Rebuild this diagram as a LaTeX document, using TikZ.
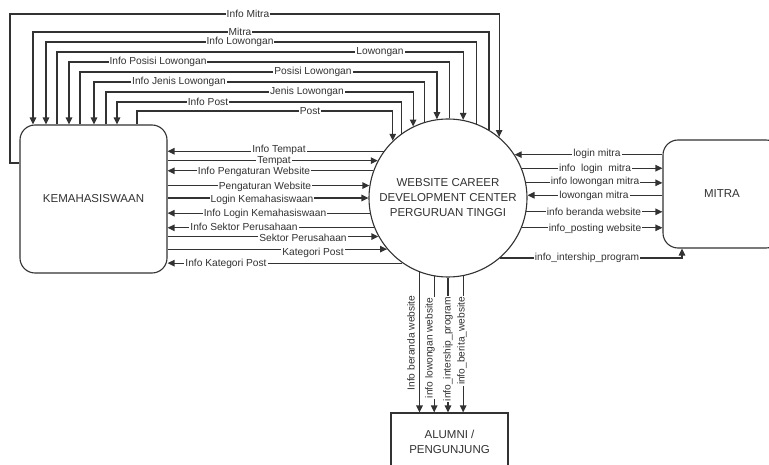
\documentclass[tikz,border=0pt]{standalone}
\usepackage{fontspec}
\setmainfont{Liberation Sans}
\usetikzlibrary{arrows.meta}
\definecolor{ln}{RGB}{50,50,50}
\definecolor{txt}{RGB}{50,50,50}
\begin{document}
\begin{tikzpicture}[x=1pt,y=-1pt,
  arr/.style={draw=ln, line width=1.15pt, -{Triangle[length=7pt,width=6.5pt]}},
  lbl/.style={fill=white, inner xsep=1pt, inner ysep=0.3pt, text=txt, font=\fontsize{10.2}{12}\selectfont},
  ent/.style={draw=ln, line width=1.1pt, fill=white, inner sep=0pt, text=txt, align=center, font=\fontsize{11.5}{15}\selectfont},
  rbox/.style={ent, rounded corners=15pt}]
\useasboundingbox (0,0) rectangle (769,465);
\clip (0,0) rectangle (769,465);

% entities
\node[rbox, minimum width=147pt, minimum height=148pt] (kem) at (93.5,199) {KEMAHASISWAAN};
\node[rbox, minimum width=118pt, minimum height=108pt] (mitra) at (722,194) {MITRA};
\node[ent, minimum width=117pt, minimum height=58pt] (alum) at (449.5,442) {ALUMNI /\\PENGUNJUNG};
\node[ent, circle, minimum size=158pt] (circ) at (448,198) {WEBSITE CAREER\\DEVELOPMENT CENTER\\PERGURUAN TINGGI};

% top flows
\draw[arr] (kem.west |- 0,163) -| (10,14) -| (circ.50.7);
\draw[arr] (circ.59.6) |- (33,32) -- (33,0 |- kem.north);
\draw[arr] (circ.69.3) |- (46,42) -- (46,0 |- kem.north);
\draw[arr] (57,0 |- kem.north) -- (57,52) -| (circ.79.1);
\draw[arr] (circ.89.3) |- (69,62) -- (69,0 |- kem.north);
\draw[arr] (80,0 |- kem.north) -- (80,72) -| (circ.98.0);
\draw[arr] (circ.107.7) |- (94,82) -- (94,0 |- kem.north);
\draw[arr] (106,0 |- kem.north) -- (106,92) -| (circ.116.3);
\draw[arr] (circ.126.5) |- (117,102) -- (117,0 |- kem.north);
\draw[arr] (137,0 |- kem.north) -- (137,111) -| (circ.134.1);

\node[lbl] (t1) at (248,14) {Info Mitra};
\node[lbl] (t2) at (240,32) {Mitra};
\node[lbl] (t3) at (240,42) {Info Lowongan};
\node[lbl] (t4) at (380,52) {Lowongan};
\node[lbl] (t5) at (158,62) {Info Posisi Lowongan};
\node[lbl] (t6) at (313,72) {Posisi Lowongan};
\node[lbl] (t7) at (179,82) {Info Jenis Lowongan};
\node[lbl] (t8) at (307,92) {Jenis Lowongan};
\node[lbl] (t9) at (208,102) {Info Post};
\node[lbl] (t10) at (310,111) {Post};

% left flows
\draw[arr] (circ.144.4) -- (kem.east |- circ.144.4);
\draw[arr] (kem.east |- circ.152.9) -- (circ.152.9);
\draw[arr] (circ.160.8) -- (kem.east |- circ.160.8);
\draw[arr] (kem.east |- circ.171.3) -- (circ.171.3);
\draw[arr] (kem.east |- circ.180.7) -- (circ.180.7);
\draw[arr] (circ.191.7) -- (kem.east |- circ.191.7);
\draw[arr] (circ.202.3) -- (kem.east |- circ.202.3);
\draw[arr] (kem.east |- circ.209.6) -- (circ.209.6);
\draw[arr] (kem.east |- circ.220.2) -- (circ.220.2);
\draw[arr] (circ.235.4) -- (kem.east |- circ.235.4);

\node[lbl] (l1) at (279,149.5) {Info Tempat};
\node[lbl] (l2) at (274,161.5) {Tempat};
\node[lbl] (l3) at (254,172) {Info Pengaturan Website};
\node[lbl] (l4) at (265,187) {Pengaturan Website};
\node[lbl] (l5) at (262,200) {Login Kemahasiswaan};
\node[lbl] (l6) at (265,214) {Info Login Kemahasiswaan};
\node[lbl] (l7) at (244,227) {Info Sektor Perusahaan};
\node[lbl] (l8) at (303,238) {Sektor Perusahaan};
\node[lbl] (l9) at (313,252.5) {Kategori Post};
\node[lbl] (l10) at (226,264) {Info Kategori Post};

% right flows
\draw[arr] (mitra.west |- circ.33.8) -- (circ.33.8);
\draw[arr] (circ.22.3) -- (mitra.west |- circ.22.3);
\draw[arr] (circ.11.7) -- (mitra.west |- circ.11.7);
\draw[arr] (mitra.west |- circ.2.2) -- (circ.2.2);
\draw[arr] (circ.-10.2) -- (mitra.west |- circ.-10.2);
\draw[arr] (circ.-22.3) -- (mitra.west |- circ.-22.3);
\draw[arr] (circ.-49.4) -| (682,0 |- mitra.south);

\node[lbl] (r1) at (597,154) {login mitra};
\node[lbl] (r2) at (595,169) {info\ \ login\ \ mitra};
\node[lbl] (r3) at (595,181.5) {info lowongan mitra};
\node[lbl] (r4) at (594,196) {lowongan mitra};
\node[lbl] (r5) at (594,212) {info beranda website};
\node[lbl] (r6) at (595,228.5) {info\_posting website};
\node[lbl] (r7) at (587,258) {info\_intership\_program};

% bottom flows
\draw[arr] (circ.-111.5) -- (circ.-111.5 |- alum.north);
\draw[arr] (circ.-100.2) -- (circ.-100.2 |- alum.north);
\draw[arr] (circ.-90) -- (circ.-90 |- alum.north);
\draw[arr] (circ.-79.1) -- (circ.-79.1 |- alum.north);

\node[lbl, rotate=90] (b1) at (411,343) {Info beranda website};
\node[lbl, rotate=90] (b2) at (430,348) {info lowongan website};
\node[lbl, rotate=90] (b3) at (448,349) {info\_intership\_program};
\node[lbl, rotate=90] (b4) at (462,341) {info\_berita\_website};
\end{tikzpicture}
\end{document}
